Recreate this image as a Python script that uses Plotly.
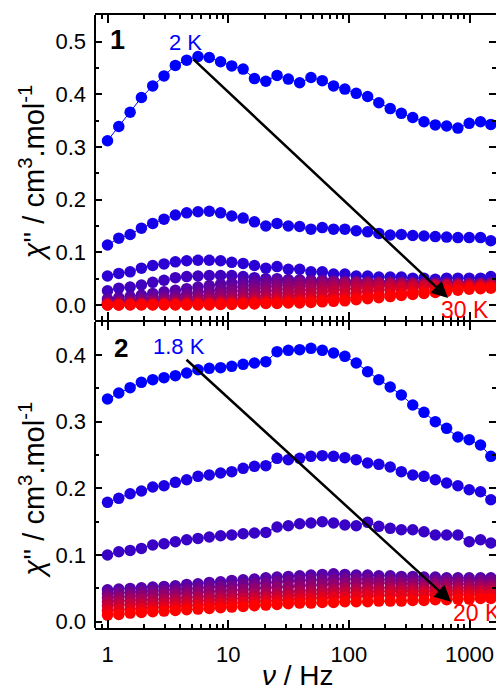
import plotly.graph_objects as go

# ---------------- data ----------------
freq = [1.0, 1.24, 1.54, 1.91, 2.37, 2.94, 3.65, 4.53, 5.62, 6.97, 8.65, 10.7, 13.3, 16.5,
        20.5, 25.4, 31.5, 39.1, 48.5, 60.2, 74.6, 92.6, 115, 143, 177, 220, 272, 338, 419,
        520, 645, 800, 993, 1232, 1500]

temps_1 = ["2 K", "3 K", "4 K", "5 K", "6 K", "7 K", "8 K", "9 K", "10 K", "12 K", "15 K", "20 K", "30 K"]
chi_1 = [
    [0.312, 0.339, 0.366, 0.394, 0.416, 0.435, 0.455, 0.465, 0.472, 0.470, 0.462, 0.454, 0.448, 0.430,
     0.425, 0.436, 0.429, 0.422, 0.432, 0.426, 0.416, 0.410, 0.402, 0.396, 0.384, 0.373, 0.364, 0.356,
     0.348, 0.342, 0.340, 0.336, 0.345, 0.348, 0.343],
    [0.114, 0.127, 0.134, 0.146, 0.155, 0.163, 0.171, 0.175, 0.177, 0.178, 0.175, 0.169, 0.165, 0.158,
     0.150, 0.155, 0.150, 0.149, 0.144, 0.147, 0.144, 0.144, 0.141, 0.139, 0.136, 0.133, 0.134, 0.132,
     0.131, 0.130, 0.129, 0.128, 0.128, 0.128, 0.122],
    [0.055, 0.060, 0.063, 0.070, 0.075, 0.078, 0.082, 0.084, 0.085, 0.085, 0.084, 0.081, 0.079, 0.075,
     0.070, 0.073, 0.068, 0.068, 0.063, 0.063, 0.059, 0.059, 0.055, 0.055, 0.053, 0.053, 0.053, 0.051,
     0.051, 0.049, 0.051, 0.051, 0.051, 0.051, 0.054],
    [0.027, 0.032, 0.034, 0.038, 0.043, 0.047, 0.052, 0.054, 0.055, 0.056, 0.056, 0.056, 0.054, 0.052,
     0.050, 0.050, 0.048, 0.047, 0.046, 0.045, 0.045, 0.044, 0.044, 0.043, 0.043, 0.043, 0.042, 0.042,
     0.042, 0.042, 0.042, 0.042, 0.042, 0.042, 0.043],
    [0.012, 0.014, 0.016, 0.019, 0.022, 0.025, 0.028, 0.031, 0.034, 0.037, 0.040, 0.042, 0.044, 0.046,
     0.047, 0.048, 0.048, 0.048, 0.047, 0.047, 0.046, 0.045, 0.045, 0.044, 0.044, 0.043, 0.043, 0.043,
     0.042, 0.042, 0.042, 0.042, 0.042, 0.042, 0.042],
    [0.008, 0.009, 0.010, 0.012, 0.014, 0.016, 0.018, 0.021, 0.024, 0.027, 0.030, 0.033, 0.036, 0.039,
     0.041, 0.043, 0.044, 0.045, 0.045, 0.045, 0.045, 0.044, 0.044, 0.044, 0.043, 0.043, 0.043, 0.042,
     0.042, 0.042, 0.042, 0.041, 0.041, 0.041, 0.041],
    [0.005, 0.006, 0.007, 0.008, 0.009, 0.011, 0.012, 0.014, 0.016, 0.019, 0.022, 0.025, 0.028, 0.031,
     0.034, 0.037, 0.039, 0.041, 0.042, 0.043, 0.043, 0.043, 0.043, 0.042, 0.042, 0.042, 0.041, 0.041,
     0.041, 0.040, 0.040, 0.040, 0.040, 0.040, 0.040],
    [0.003, 0.004, 0.004, 0.005, 0.006, 0.007, 0.008, 0.009, 0.011, 0.013, 0.015, 0.017, 0.020, 0.023,
     0.026, 0.029, 0.032, 0.035, 0.037, 0.039, 0.040, 0.041, 0.041, 0.041, 0.041, 0.040, 0.040, 0.040,
     0.039, 0.039, 0.039, 0.039, 0.039, 0.039, 0.039],
    [0.002, 0.002, 0.003, 0.003, 0.004, 0.004, 0.005, 0.006, 0.007, 0.008, 0.009, 0.011, 0.013, 0.015,
     0.018, 0.021, 0.024, 0.027, 0.030, 0.033, 0.035, 0.037, 0.038, 0.039, 0.039, 0.039, 0.039, 0.038,
     0.038, 0.038, 0.038, 0.038, 0.038, 0.038, 0.038],
    [0.001, 0.001, 0.002, 0.002, 0.002, 0.003, 0.003, 0.004, 0.004, 0.005, 0.006, 0.007, 0.008, 0.010,
     0.012, 0.014, 0.016, 0.019, 0.022, 0.025, 0.028, 0.030, 0.032, 0.034, 0.035, 0.036, 0.036, 0.037,
     0.037, 0.037, 0.037, 0.037, 0.037, 0.037, 0.037],
    [0.001, 0.001, 0.001, 0.001, 0.001, 0.002, 0.002, 0.002, 0.003, 0.003, 0.004, 0.004, 0.005, 0.006,
     0.007, 0.009, 0.010, 0.012, 0.014, 0.016, 0.019, 0.021, 0.024, 0.026, 0.028, 0.030, 0.032, 0.033,
     0.034, 0.035, 0.035, 0.036, 0.036, 0.036, 0.036],
    [0.000, 0.000, 0.001, 0.001, 0.001, 0.001, 0.001, 0.001, 0.002, 0.002, 0.002, 0.003, 0.003, 0.004,
     0.004, 0.005, 0.006, 0.007, 0.008, 0.010, 0.011, 0.013, 0.015, 0.017, 0.019, 0.021, 0.023, 0.025,
     0.027, 0.029, 0.030, 0.032, 0.033, 0.034, 0.034],
    [0.000, 0.000, 0.000, 0.000, 0.000, 0.000, 0.000, 0.000, 0.000, 0.000, 0.001, 0.001, 0.002, 0.002,
     0.003, 0.003, 0.004, 0.004, 0.005, 0.006, 0.007, 0.008, 0.010, 0.012, 0.014, 0.016, 0.018, 0.020,
     0.022, 0.024, 0.026, 0.028, 0.030, 0.031, 0.032],
]

temps_2 = ["1.8 K", "3 K", "4 K", "5 K", "6 K", "8 K", "10 K", "12 K", "15 K", "20 K"]
chi_2 = [
    [0.334, 0.343, 0.351, 0.359, 0.363, 0.366, 0.369, 0.373, 0.378, 0.380, 0.381, 0.383, 0.386, 0.388,
     0.390, 0.405, 0.407, 0.408, 0.410, 0.407, 0.403, 0.398, 0.388, 0.375, 0.363, 0.352, 0.340, 0.325,
     0.314, 0.300, 0.290, 0.277, 0.273, 0.265, 0.248],
    [0.179, 0.185, 0.192, 0.196, 0.202, 0.204, 0.209, 0.213, 0.218, 0.220, 0.223, 0.225, 0.230, 0.233,
     0.234, 0.245, 0.243, 0.245, 0.248, 0.249, 0.248, 0.246, 0.243, 0.238, 0.236, 0.232, 0.225, 0.220,
     0.218, 0.213, 0.208, 0.204, 0.198, 0.195, 0.183],
    [0.100, 0.105, 0.107, 0.110, 0.115, 0.117, 0.120, 0.123, 0.125, 0.127, 0.129, 0.130, 0.132, 0.133,
     0.134, 0.142, 0.144, 0.147, 0.148, 0.150, 0.148, 0.145, 0.144, 0.149, 0.143, 0.140, 0.138, 0.138,
     0.135, 0.130, 0.130, 0.130, 0.120, 0.123, 0.118],
    [0.048, 0.049, 0.050, 0.051, 0.052, 0.053, 0.054, 0.056, 0.057, 0.059, 0.060, 0.062, 0.063, 0.064,
     0.066, 0.067, 0.068, 0.069, 0.070, 0.071, 0.072, 0.071, 0.070, 0.070, 0.069, 0.069, 0.068, 0.068,
     0.067, 0.067, 0.066, 0.066, 0.066, 0.066, 0.066],
    [0.042, 0.043, 0.044, 0.045, 0.046, 0.047, 0.048, 0.049, 0.050, 0.052, 0.053, 0.054, 0.056, 0.057,
     0.058, 0.060, 0.061, 0.062, 0.063, 0.063, 0.064, 0.064, 0.064, 0.064, 0.063, 0.063, 0.063, 0.063,
     0.062, 0.062, 0.062, 0.062, 0.062, 0.062, 0.062],
    [0.036, 0.037, 0.038, 0.039, 0.040, 0.041, 0.042, 0.043, 0.044, 0.045, 0.046, 0.047, 0.048, 0.050,
     0.051, 0.052, 0.053, 0.054, 0.055, 0.056, 0.057, 0.057, 0.058, 0.058, 0.058, 0.058, 0.057, 0.057,
     0.057, 0.057, 0.057, 0.057, 0.056, 0.056, 0.056],
    [0.030, 0.031, 0.032, 0.033, 0.033, 0.034, 0.035, 0.036, 0.037, 0.038, 0.039, 0.040, 0.041, 0.042,
     0.043, 0.044, 0.045, 0.046, 0.047, 0.048, 0.049, 0.050, 0.050, 0.051, 0.051, 0.051, 0.051, 0.051,
     0.051, 0.051, 0.051, 0.051, 0.051, 0.051, 0.051],
    [0.024, 0.025, 0.026, 0.026, 0.027, 0.028, 0.029, 0.030, 0.031, 0.032, 0.033, 0.034, 0.035, 0.036,
     0.037, 0.038, 0.039, 0.040, 0.041, 0.042, 0.043, 0.044, 0.044, 0.045, 0.045, 0.046, 0.046, 0.046,
     0.046, 0.046, 0.046, 0.046, 0.046, 0.046, 0.046],
    [0.017, 0.018, 0.019, 0.020, 0.021, 0.022, 0.023, 0.024, 0.025, 0.026, 0.027, 0.028, 0.029, 0.030,
     0.031, 0.032, 0.033, 0.034, 0.035, 0.036, 0.037, 0.037, 0.038, 0.039, 0.039, 0.040, 0.040, 0.040,
     0.041, 0.041, 0.041, 0.041, 0.041, 0.041, 0.041],
    [0.010, 0.011, 0.013, 0.014, 0.015, 0.016, 0.017, 0.018, 0.019, 0.020, 0.021, 0.022, 0.023, 0.024,
     0.025, 0.026, 0.027, 0.028, 0.028, 0.029, 0.029, 0.030, 0.030, 0.030, 0.031, 0.031, 0.031, 0.032,
     0.032, 0.033, 0.033, 0.034, 0.034, 0.035, 0.035],
]

y_ticks_1 = [0.0, 0.1, 0.2, 0.3, 0.4, 0.5]
y_ticks_2 = [0.0, 0.1, 0.2, 0.3, 0.4]
x_ticks = [1, 10, 100, 1000]
x_minor = [0.8, 0.9, 2, 3, 4, 5, 6, 7, 8, 9, 20, 30, 40, 50, 60, 70, 80, 90,
           200, 300, 400, 500, 600, 700, 800, 900]

# ---------------- styling ----------------
FONT = "Arial, Liberation Sans, sans-serif"


def grad(i, n):
    t = i / (n - 1)
    return "rgb(%d,0,%d)" % (round(255 * t), round(255 * (1 - t)))


fig = go.Figure()

for i, (lab, ys) in enumerate(zip(temps_1, chi_1)):
    c = grad(i, len(chi_1))
    fig.add_trace(go.Scatter(x=freq, y=ys, name=lab, mode="lines+markers",
                             line=dict(color=c, width=1),
                             marker=dict(color=c, size=11.5, line=dict(width=0)),
                             xaxis="x", yaxis="y", showlegend=False))

for i, (lab, ys) in enumerate(zip(temps_2, chi_2)):
    c = grad(i, len(chi_2))
    fig.add_trace(go.Scatter(x=freq, y=ys, name=lab, mode="lines+markers",
                             line=dict(color=c, width=1),
                             marker=dict(color=c, size=11.5, line=dict(width=0)),
                             xaxis="x2", yaxis="y2", showlegend=False))

XR = [-0.1036, 3.2188]
xcommon = dict(type="log", range=XR, showline=True, linecolor="black", linewidth=2,
               mirror="ticks", ticks="inside", ticklen=8, tickwidth=2, tickcolor="black",
               tickmode="array", tickvals=x_ticks, ticktext=[str(v) for v in x_ticks],
               minor=dict(tickmode="array", tickvals=x_minor, ticks="inside", ticklen=4,
                          tickwidth=1.5, tickcolor="black"),
               showgrid=False, zeroline=False,
               tickfont=dict(family=FONT, size=22, color="black"))
ycommon = dict(showline=False, mirror="ticks", ticks="inside", ticklen=7, tickwidth=2,
               tickcolor="black", showgrid=False, zeroline=False, tickformat=".1f",
               minor=dict(dtick=0.05, tick0=0, ticks="inside", ticklen=4, tickwidth=1.5,
                          tickcolor="black"),
               ticklabelstandoff=8,
               tickfont=dict(family=FONT, size=22, color="black"))

fig.update_layout(
    width=496, height=687,
    margin=dict(l=95, r=0, t=15, b=59),
    paper_bgcolor="white", plot_bgcolor="white",
    font=dict(family=FONT, color="black"),
    xaxis=dict(xcommon, anchor="y", domain=[0, 1], showticklabels=False),
    yaxis=dict(ycommon, anchor="x", domain=[0.5024, 1], range=[-0.0285, 0.5507],
               tickmode="array", tickvals=y_ticks_1),
    xaxis2=dict(xcommon, anchor="y2", domain=[0, 1], ticklabelstandoff=6),
    yaxis2=dict(ycommon, anchor="x2", domain=[0, 0.4992], range=[-0.0094, 0.4495],
                tickmode="array", tickvals=y_ticks_2),
)

# left frame lines
for ya in ["y", "y2"]:
    fig.add_shape(type="line", xref="x domain", yref=ya + " domain", x0=0, x1=0, y0=0, y1=1,
                  line=dict(color="black", width=2))

# arrows (head position, tail position) in log10(freq) / chi'' units
arrow_1 = dict(head=(2.821, 0.0133), tail=(0.700, 0.469))
arrow_2 = dict(head=(2.846, 0.030), tail=(0.642, 0.395))
for a, xr, yr in [(arrow_1, "x", "y"), (arrow_2, "x2", "y2")]:
    fig.add_annotation(x=a["head"][0], y=a["head"][1], ax=a["tail"][0], ay=a["tail"][1],
                       xref=xr, yref=yr, axref=xr, ayref=yr, text="", showarrow=True,
                       arrowhead=2, arrowsize=1.3, arrowwidth=2.5, arrowcolor="black")

labels = [
    ("<b>1</b>", 0.0787, 0.503, "x", "y", 27, "black", "center"),
    ("2 K", 0.650, 0.499, "x", "y", 22, "rgb(0,0,255)", "center"),
    ("30 K", 2.962, -0.0095, "x", "y", 23, "rgb(255,0,0)", "center"),
    ("<b>2</b>", 0.112, 0.4105, "x2", "y2", 26, "black", "center"),
    ("1.8 K", 0.592, 0.4135, "x2", "y2", 22, "rgb(0,0,255)", "center"),
    ("20 K", 2.846, 0.013, "x2", "y2", 23, "rgb(255,0,0)", "left"),
]
for txt, x, y, xr, yr, sz, col, anc in labels:
    fig.add_annotation(x=x, y=y, xref=xr, yref=yr, text=txt, showarrow=False,
                       xanchor=anc, yanchor="middle",
                       font=dict(family=FONT, size=sz, color=col))

ytitle = "<i>χ</i>'' / cm<sup>3</sup>.mol<sup>-1</sup>"
for yp in [0.7423, 0.2251]:
    fig.add_annotation(x=-0.158, y=yp, xref="paper", yref="paper", text=ytitle,
                       textangle=-90, showarrow=False, xanchor="center", yanchor="middle",
                       font=dict(family=FONT, size=29, color="black"))

fig.add_annotation(x=0.506, y=-0.0783, xref="paper", yref="paper", text="<i>ν</i> / Hz",
                   showarrow=False, xanchor="center", yanchor="middle",
                   font=dict(family=FONT, size=28, color="black"))

fig.write_html("out.html", config={"displayModeBar": False},
               post_script="document.body.style.margin='0px';document.body.style.overflow='hidden';")
